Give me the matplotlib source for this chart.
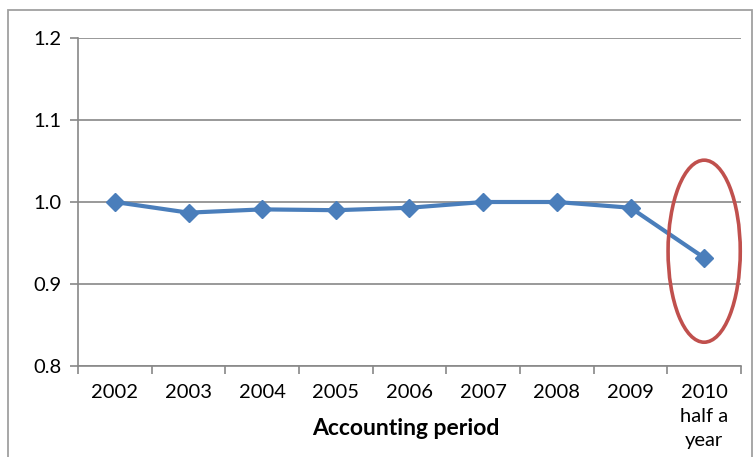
import matplotlib
matplotlib.use("Agg")
import matplotlib.pyplot as plt
from matplotlib.patches import Ellipse, Rectangle
import numpy as np

categories = ["2002", "2003", "2004", "2005", "2006", "2007", "2008", "2009", "2010\nhalf a\nyear"]
values = [1.000, 0.987, 0.991, 0.990, 0.993, 1.000, 1.000, 0.993, 0.932]
yticks = [0.8, 0.9, 1.0, 1.1, 1.2]
ytick_labels = ["0.8", "0.9", "1.0", "1.1", "1.2"]
xlabel = "Accounting period"

plt.rcParams['font.family'] = ['Lato', 'DejaVu Sans']

W, H = 753, 457
fig = plt.figure(figsize=(W / 100, H / 100), dpi=100)
ax = fig.add_axes([78 / W, 1 - 366 / H, (741 - 78) / W, (366 - 38) / H])

grid_c = "#888888"
x = np.arange(len(categories))
ax.plot(x, values, color="#4a7ebb", lw=3.0, marker="D", ms=9, mec="#4a7ebb", mfc="#4a7ebb", zorder=3)

ax.set_xlim(-0.5, len(categories) - 0.5)
ax.set_ylim(0.8, 1.2)
ax.set_yticks(yticks)
ax.set_yticklabels(ytick_labels, fontsize=14.5)
ax.yaxis.grid(True, color=grid_c, lw=1.2)
ax.set_axisbelow(True)

ax.set_xticks(x)
ax.set_xticklabels(categories, fontsize=14.5, linespacing=1.5)
ax.set_xticks(np.arange(-0.5, len(categories)), minor=True)
ax.tick_params(axis="x", which="major", length=0, pad=13)
ax.tick_params(axis="x", which="minor", length=6, color=grid_c, width=1.2, direction="out")
ax.tick_params(axis="y", length=6, color=grid_c, width=1.2, pad=6)
for lab in ax.get_xticklabels():
    lab.set_verticalalignment("top")

for s in ["top", "right"]:
    ax.spines[s].set_visible(False)
for s in ["left", "bottom"]:
    ax.spines[s].set_color(grid_c)
    ax.spines[s].set_linewidth(1.2)

ax.text(0.495, -0.19, xlabel, transform=ax.transAxes, ha="center", va="center",
        fontsize=16.5, fontweight="bold")

# highlight ellipse around last point
ell = Ellipse((len(categories) - 1, 0.940), width=0.98, height=0.222,
              fill=False, edgecolor="#c0504d", lw=2.6, zorder=4, clip_on=False)
ax.add_patch(ell)

# chart border
fig.patches.append(Rectangle((8 / W, -0.05), (W - 8.5) / W - 8 / W + 0.01, 1 - 10 / H + 0.05,
                             transform=fig.transFigure, fill=False, edgecolor="#a0a0a0", lw=1.3))

fig.savefig("out.png", dpi=100)
